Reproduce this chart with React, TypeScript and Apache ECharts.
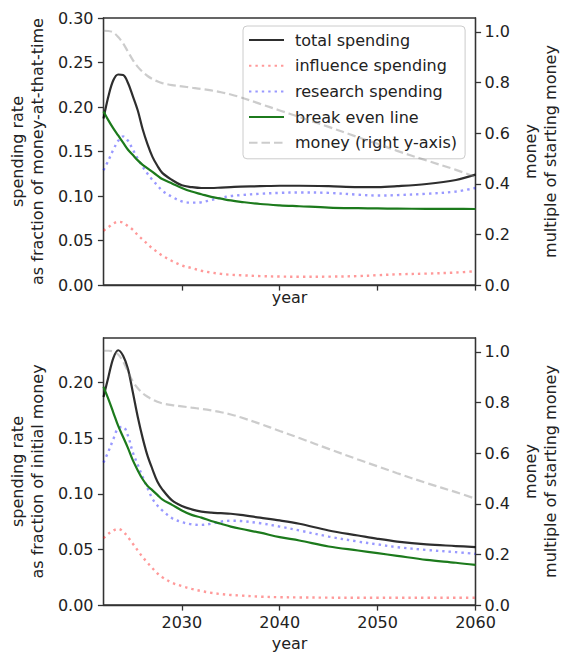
import React, { useEffect, useRef } from "react";
import * as echarts from "echarts";

const years = [2022, 2022.5, 2023, 2023.5, 2024, 2024.5, 2025, 2025.5, 2026, 2026.5, 2027, 2027.5, 2028, 2029, 2030, 2031, 2032, 2033, 2034, 2035, 2036, 2038, 2040, 2042, 2045, 2048, 2050, 2052, 2055, 2058, 2060];

// top panel: spending rate as fraction of money-at-that-time
const topTotal = [0.187, 0.212, 0.23, 0.2365, 0.236, 0.227, 0.212, 0.196, 0.175, 0.158, 0.144, 0.134, 0.126, 0.118, 0.112, 0.110, 0.109, 0.109, 0.1095, 0.110, 0.1105, 0.111, 0.1115, 0.1115, 0.111, 0.110, 0.110, 0.111, 0.1135, 0.118, 0.124];
const topInfluence = [0.061, 0.065, 0.069, 0.071, 0.070, 0.066, 0.062, 0.056, 0.051, 0.046, 0.041, 0.037, 0.033, 0.027, 0.022, 0.019, 0.016, 0.014, 0.0125, 0.0115, 0.011, 0.010, 0.0095, 0.0093, 0.0094, 0.010, 0.011, 0.012, 0.0128, 0.014, 0.0155];
const topResearch = [0.129, 0.140, 0.152, 0.162, 0.167, 0.162, 0.152, 0.142, 0.133, 0.125, 0.118, 0.112, 0.106, 0.099, 0.094, 0.0925, 0.093, 0.0955, 0.098, 0.100, 0.101, 0.1025, 0.1035, 0.104, 0.1035, 0.1015, 0.1005, 0.101, 0.1025, 0.105, 0.109];
const topBreakEven = [0.195, 0.185, 0.176, 0.168, 0.160, 0.152, 0.146, 0.140, 0.135, 0.131, 0.127, 0.123, 0.119, 0.114, 0.109, 0.105, 0.102, 0.099, 0.097, 0.095, 0.0935, 0.091, 0.0895, 0.0885, 0.087, 0.0863, 0.086, 0.0858, 0.0856, 0.0855, 0.0854];
const topMoney = [1.005, 1.004, 0.998, 0.98, 0.955, 0.922, 0.889, 0.862, 0.842, 0.826, 0.814, 0.805, 0.798, 0.790, 0.785, 0.780, 0.775, 0.769, 0.762, 0.753, 0.742, 0.716, 0.690, 0.664, 0.625, 0.584, 0.558, 0.530, 0.492, 0.455, 0.427];

// bottom panel: spending rate as fraction of initial money
const botTotal = [0.187, 0.205, 0.222, 0.229, 0.224, 0.212, 0.191, 0.169, 0.150, 0.134, 0.122, 0.111, 0.104, 0.094, 0.089, 0.086, 0.084, 0.083, 0.0825, 0.082, 0.081, 0.0785, 0.076, 0.073, 0.067, 0.0625, 0.0595, 0.057, 0.0545, 0.053, 0.052];
const botInfluence = [0.060, 0.064, 0.067, 0.0685, 0.066, 0.061, 0.055, 0.049, 0.043, 0.038, 0.033, 0.0285, 0.025, 0.020, 0.017, 0.0145, 0.0125, 0.011, 0.0098, 0.009, 0.0085, 0.0075, 0.007, 0.0068, 0.0066, 0.0065, 0.0065, 0.0065, 0.0065, 0.0065, 0.0065];
const botResearch = [0.128, 0.138, 0.149, 0.159, 0.160, 0.152, 0.137, 0.126, 0.115, 0.105, 0.0955, 0.0895, 0.085, 0.078, 0.0745, 0.0725, 0.072, 0.073, 0.075, 0.0757, 0.0755, 0.0735, 0.0705, 0.067, 0.0615, 0.057, 0.0545, 0.052, 0.0495, 0.0475, 0.046];
const botBreakEven = [0.196, 0.185, 0.173, 0.161, 0.151, 0.141, 0.130, 0.121, 0.113, 0.107, 0.103, 0.099, 0.095, 0.090, 0.085, 0.081, 0.0785, 0.0755, 0.073, 0.0705, 0.0685, 0.065, 0.061, 0.058, 0.0526, 0.049, 0.0466, 0.0442, 0.0406, 0.038, 0.036];
const botMoney = [1.005, 1.005, 1.002, 0.99, 0.962, 0.922, 0.883, 0.857, 0.837, 0.823, 0.812, 0.803, 0.797, 0.790, 0.785, 0.780, 0.775, 0.769, 0.762, 0.753, 0.742, 0.716, 0.688, 0.660, 0.617, 0.575, 0.548, 0.521, 0.482, 0.446, 0.420];

const xTicks = [2030, 2040, 2050, 2060];
const topLeftTicks = [0, 0.05, 0.1, 0.15, 0.2, 0.25, 0.3];
const botLeftTicks = [0, 0.05, 0.1, 0.15, 0.2];
const rightTicks = [0, 0.2, 0.4, 0.6, 0.8, 1.0];

const seriesNames = ["total spending", "influence spending", "research spending", "break even line", "money (right y-axis)"];

const FONT = "DejaVu Sans";
const TEXT = "#222";
const AXIS = "#333";

function pairs(ys: number[]) {
  return years.map((x, i) => [x, ys[i]]);
}

export default function App() {
  const ref = useRef<HTMLDivElement>(null);
  useEffect(() => {
    const chart = echarts.init(ref.current!, null, { renderer: "svg" });

    const styles = [
      { color: "rgba(0,0,0,0.82)", type: "solid" as any, width: 2.2 },
      { color: "rgba(255,0,0,0.4)", type: [2.4, 4] as any, width: 2.4 },
      { color: "rgba(0,0,255,0.4)", type: [2.4, 4] as any, width: 2.4 },
      { color: "rgb(28,122,28)", type: "solid" as any, width: 2.2 },
      { color: "rgba(128,128,128,0.4)", type: [8.5, 4] as any, width: 2.2 },
    ];

    const mk = (idx: number, data: number[], xi: number, yi: number) => ({
      type: "line",
      name: seriesNames[idx],
      data: pairs(data),
      xAxisIndex: xi,
      yAxisIndex: yi,
      symbol: "none",
      showSymbol: false,
      smooth: 0.35,
      lineStyle: { color: styles[idx].color, width: styles[idx].width, type: styles[idx].type },
      itemStyle: { color: styles[idx].color },
      emphasis: { disabled: true },
      z: 3,
    });

    const xAxisBase = (gi: number, showLabels: boolean, nameGap: number) => ({
      type: "value",
      gridIndex: gi,
      min: 2022,
      max: 2060,
      name: "year",
      nameLocation: "middle",
      nameGap,
      nameTextStyle: { fontFamily: FONT, fontSize: 16, color: TEXT },
      axisLine: { show: true, onZero: false, lineStyle: { color: AXIS, width: 1.3 } },
      axisTick: { show: true, length: 5.6, inside: false, customValues: xTicks, lineStyle: { color: AXIS, width: 1.3 } },
      axisLabel: {
        show: showLabels,
        customValues: xTicks,
        margin: 9,
        fontFamily: FONT,
        fontSize: 16,
        color: TEXT,
        formatter: (v: number) => String(Math.round(v)),
      },
      splitLine: { show: false },
    });

    const yAxisBase = (gi: number, pos: "left" | "right", max: number, ticks: number[], digits: number, name: string, nameGap: number) => ({
      type: "value",
      gridIndex: gi,
      position: pos,
      min: 0,
      max,
      name,
      nameLocation: "middle",
      nameRotate: 90,
      nameGap,
      nameTextStyle: { fontFamily: FONT, fontSize: 16, color: TEXT, lineHeight: 19.5, align: "center" },
      axisLine: { show: true, onZero: false, lineStyle: { color: AXIS, width: 1.3 } },
      axisTick: { show: true, length: 5.6, inside: false, customValues: ticks, lineStyle: { color: AXIS, width: 1.3 } },
      axisLabel: {
        customValues: ticks,
        margin: pos === "left" ? 10 : 9,
        fontFamily: FONT,
        fontSize: 16,
        color: TEXT,
        formatter: (v: number) => v.toFixed(digits),
      },
      splitLine: { show: false },
    });

    const option: any = {
      animation: false,
      backgroundColor: "#ffffff",
      textStyle: { fontFamily: FONT },
      grid: [
        { left: 98.5, top: 18, width: 377, height: 267, show: true, borderColor: AXIS, borderWidth: 1.3, backgroundColor: "transparent", containLabel: false },
        { left: 98.5, top: 338, width: 377, height: 267, show: true, borderColor: AXIS, borderWidth: 1.3, backgroundColor: "transparent", containLabel: false },
      ],
      xAxis: [xAxisBase(0, false, 4), xAxisBase(1, true, 30)],
      yAxis: [
        yAxisBase(0, "left", 0.3, topLeftTicks, 2, "spending rate\nas fraction of money-at-that-time", 51),
        yAxisBase(0, "right", 1.0553, rightTicks, 1, "money\nmultiple of starting money", 34),
        yAxisBase(1, "left", 0.24, botLeftTicks, 2, "spending rate\nas fraction of initial money", 51),
        yAxisBase(1, "right", 1.0553, rightTicks, 1, "money\nmultiple of starting money", 34),
      ],
      legend: {
        orient: "vertical",
        left: 243,
        top: 26,
        data: seriesNames,
        itemWidth: 35,
        itemHeight: 14,
        itemGap: 9.7,
        padding: [6, 8, 8, 5],
        backgroundColor: "rgba(255,255,255,0.8)",
        borderColor: "#cccccc",
        borderWidth: 1,
        borderRadius: 4,
        selectedMode: false,
        z: 1,
        itemStyle: { opacity: 0, borderWidth: 0 },
        textStyle: { fontFamily: FONT, fontSize: 16, color: TEXT, padding: [0, 0, 0, 6] },
      },
      series: [
        mk(0, topTotal, 0, 0),
        mk(1, topInfluence, 0, 0),
        mk(2, topResearch, 0, 0),
        mk(3, topBreakEven, 0, 0),
        mk(4, topMoney, 0, 1),
        mk(0, botTotal, 1, 2),
        mk(1, botInfluence, 1, 2),
        mk(2, botResearch, 1, 2),
        mk(3, botBreakEven, 1, 2),
        mk(4, botMoney, 1, 3),
      ],
    };

    chart.setOption(option);
    return () => chart.dispose();
  }, []);

  return (
    <div
      ref={ref}
      style={{ position: "fixed", left: 0, top: 0, width: 568, height: 664, background: "#fff" }}
    />
  );
}
